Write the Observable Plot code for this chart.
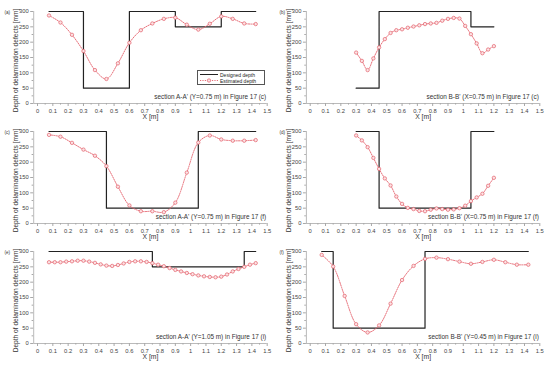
<!DOCTYPE html>
<html>
<head>
<meta charset="utf-8">
<script src="https://cdn.jsdelivr.net/npm/d3@7"></script>
<script src="https://cdn.jsdelivr.net/npm/@observablehq/plot@0.6"></script>
<style>
  html, body { margin: 0; padding: 0; background: #fff; }
  #wrap { position: relative; width: 550px; height: 368px; background: #fff; overflow: hidden; font-family: "Liberation Sans", Arial, sans-serif; }
  .cell { position: absolute; width: 275px; height: 128px; }
  .cell svg { overflow: visible; }
  .legend { position: absolute; border: 0.8px solid #555; background: #fff; font-size: 5px; line-height: 6px; padding: 0.5px 2px; color: #222; }
  .legend div { display: flex; align-items: center; height: 6px; }
  .legend svg { margin-right: 2px; }
</style>
</head>
<body>
<div id="wrap"></div>
<script>
// ---------- data ----------
const xGrid19 = [0.075, 0.15, 0.225, 0.3, 0.375, 0.45, 0.525, 0.6, 0.675, 0.75, 0.825, 0.9, 0.975, 1.05, 1.125, 1.2, 1.275, 1.35, 1.425];
const xGrid25 = [0.3, 0.3375, 0.375, 0.4125, 0.45, 0.4875, 0.525, 0.5625, 0.6, 0.6375, 0.675, 0.7125, 0.75, 0.7875, 0.825, 0.8625, 0.9, 0.9375, 0.975, 1.0125, 1.05, 1.0875, 1.125, 1.1625, 1.2];
const xGrid37 = [0.075, 0.1125, 0.15, 0.1875, 0.225, 0.2625, 0.3, 0.3375, 0.375, 0.4125, 0.45, 0.4875, 0.525, 0.5625, 0.6, 0.6375, 0.675, 0.7125, 0.75, 0.7875, 0.825, 0.8625, 0.9, 0.9375, 0.975, 1.0125, 1.05, 1.0875, 1.125, 1.1625, 1.2, 1.2375, 1.275, 1.3125, 1.35, 1.3875, 1.425];

const estA = [287, 264, 224, 171, 109, 80, 131, 198, 239, 261, 276, 280, 257, 241, 260, 284, 276, 261, 259];
const estB = [166, 139, 109, 147, 183, 210, 230, 239, 242, 247, 251, 255, 259, 261, 263, 270, 276, 279, 277, 253, 226, 196, 164, 176, 187];
const estC = [289, 283, 263, 241, 221, 187, 120, 59, 40, 40, 37, 68, 166, 264, 287, 274, 270, 270, 272];
const estD = [287, 271, 249, 214, 178, 147, 124, 88, 64, 51, 47, 41, 40, 45, 49, 47, 45, 46, 50, 58, 73, 85, 97, 123, 149];
const estE = [265, 265, 265, 267, 268, 270, 270, 267, 263, 258, 254, 253, 256, 261, 266, 268, 268, 266, 262, 257, 252, 246, 240, 235, 230, 226, 222, 219, 217, 216, 218, 225, 235, 243, 250, 257, 262];
const estF = [289, 251, 155, 63, 36, 59, 130, 207, 253, 276, 280, 275, 267, 260, 266, 273, 265, 257, 257];

// designed depth breakpoints (step-after)
const desAx = [0.075, 0.3, 0.6, 0.9, 1.2, 1.425], desAy = [300, 50, 300, 250, 300, 300];
const desBx = [0.3, 0.45, 1.05, 1.2],             desBy = [50, 300, 250, 250];
const desCx = [0.075, 0.45, 1.05, 1.425],         desCy = [300, 50, 300, 300];
const desDx = [0.3, 0.45, 1.05, 1.2],             desDy = [300, 50, 300, 300];
const desEx = [0.075, 0.75, 1.35, 1.425],         desEy = [300, 250, 300, 300];
const desFx = [0.075, 0.15, 0.75, 1.425],         desFy = [300, 50, 300, 300];

const notes = [
  "section A-A' (Y=0.75 m) in Figure 17 (c)",
  "section B-B' (X=0.75 m) in Figure 17 (c)",
  "section A-A' (Y=0.75 m) in Figure 17 (f)",
  "section B-B' (X=0.75 m) in Figure 17 (f)",
  "section A-A' (Y=1.05 m) in Figure 17 (i)",
  "section B-B' (Y=0.45 m) in Figure 17 (i)"
];
const tags = ["(a)", "(b)", "(c)", "(d)", "(e)", "(f)"];

const xTicks = [0, 0.1, 0.2, 0.3, 0.4, 0.5, 0.6, 0.7, 0.8, 0.9, 1, 1.1, 1.2, 1.3, 1.4, 1.5];
const xMinor = [0.05, 0.15, 0.25, 0.35, 0.45, 0.55, 0.65, 0.75, 0.85, 0.95, 1.05, 1.15, 1.25, 1.35, 1.45];
const yTicks = [0, 50, 100, 150, 200, 250, 300];
const yMinor = [25, 75, 125, 175, 225, 275];
const xTitle = "X [m]";
const yTitle = "Depth of delamination defects [mm]";
const legendLabels = ["Designed depth", "Estimated depth"];

// ---------- styling ----------
const X_DOMAIN = [-0.025, 1.5];
const Y_DOMAIN = [0, 300];
const AXIS = "#a8a8a8";
const TICKTXT = "#444";
const RED = "#e4606b";
const BLACK = "#222";

const panels = [
  {xe: xGrid19, ye: estA, xd: desAx, yd: desAy},
  {xe: xGrid25, ye: estB, xd: desBx, yd: desBy},
  {xe: xGrid19, ye: estC, xd: desCx, yd: desCy},
  {xe: xGrid25, ye: estD, xd: desDx, yd: desDy},
  {xe: xGrid37, ye: estE, xd: desEx, yd: desEy},
  {xe: xGrid19, ye: estF, xd: desFx, yd: desFy}
];

const wrap = document.getElementById("wrap");
const fmtX = d3.format("~g");

panels.forEach((p, i) => {
  const col = i % 2, row = Math.floor(i / 2);
  const est = p.xe.map((x, k) => ({x, y: p.ye[k]}));
  const des = p.xd.map((x, k) => ({x, y: p.yd[k]}));
  const ml = col === 0 ? 33.2 : 30.9;
  const mr = col === 0 ? 8.3 : 10.7;
  const chart = Plot.plot({
    width: 275, height: 128,
    marginLeft: ml, marginRight: mr, marginTop: 11, marginBottom: 25,
    x: {domain: X_DOMAIN},
    y: {domain: Y_DOMAIN},
    style: {background: "transparent", fontFamily: "'Liberation Sans', Arial, sans-serif", overflow: "visible"},
    marks: [
      Plot.ruleY([Y_DOMAIN[0]], {stroke: AXIS, strokeWidth: 0.8}),
      Plot.ruleX([X_DOMAIN[0]], {y1: Y_DOMAIN[0], y2: Y_DOMAIN[1], stroke: AXIS, strokeWidth: 0.8}),
      Plot.axisX({ticks: xTicks, tickSize: 3, tickPadding: 2.5, tickFormat: fmtX, fontSize: 5.8, stroke: AXIS, fill: TICKTXT, label: null}),
      Plot.axisX({ticks: xMinor, tickSize: 1.6, tickFormat: () => "", stroke: AXIS, label: null}),
      Plot.axisY({ticks: yTicks, tickSize: 3, tickPadding: 2, fontSize: 5.8, stroke: AXIS, fill: TICKTXT, label: null}),
      Plot.axisY({ticks: yMinor, tickSize: 1.6, tickFormat: () => "", stroke: AXIS, label: null}),
      Plot.text([xTitle], {text: d => d, frameAnchor: "bottom", dy: 15.5, fontSize: 6.8, fill: "#333"}),
      Plot.text([yTitle], {text: d => d, frameAnchor: "left", textAnchor: "middle", rotate: -90, dx: -18, dy: 3, fontSize: 6.6, fill: "#333"}),
      Plot.text([tags[i]], {text: d => d, frameAnchor: "top-left", textAnchor: "start", dx: -(ml - 4), dy: -1, fontSize: 4.6, fill: "#333"}),
      Plot.text([notes[i]], {text: d => d, frameAnchor: "bottom-right", textAnchor: "end", lineAnchor: "bottom", dx: -1, dy: -4.5, fontSize: 6.4, fill: "#333"}),
      Plot.line(des, {x: "x", y: "y", curve: "step-after", stroke: BLACK, strokeWidth: 1.2}),
      Plot.line(est, {x: "x", y: "y", curve: "catmull-rom", stroke: RED, strokeWidth: 0.9, strokeDasharray: "1.2,1.2"}),
      Plot.dot(est, {x: "x", y: "y", r: 1.7, stroke: RED, strokeWidth: 0.7, fill: "#fbe3e4"})
    ]
  });
  const cell = document.createElement("div");
  cell.className = "cell";
  cell.style.left = (col * 275) + "px";
  cell.style.top = (row * 120) + "px";
  cell.appendChild(chart);
  wrap.appendChild(cell);
});

// legend for panel (a)
const lg = document.createElement("div");
lg.className = "legend";
lg.style.left = "197px";
lg.style.top = "70px";
lg.style.width = "62px";
lg.innerHTML =
  `<div><svg width="18" height="5"><line x1="0" y1="2.5" x2="18" y2="2.5" stroke="${BLACK}" stroke-width="1"/></svg><span>${legendLabels[0]}</span></div>` +
  `<div><svg width="18" height="5"><line x1="0" y1="2.5" x2="18" y2="2.5" stroke="${RED}" stroke-width="0.9" stroke-dasharray="1.2,1.2"/><circle cx="9" cy="2.5" r="1.7" stroke="${RED}" stroke-width="0.7" fill="#fbe3e4"/></svg><span>${legendLabels[1]}</span></div>`;
wrap.appendChild(lg);
</script>
</body>
</html>
